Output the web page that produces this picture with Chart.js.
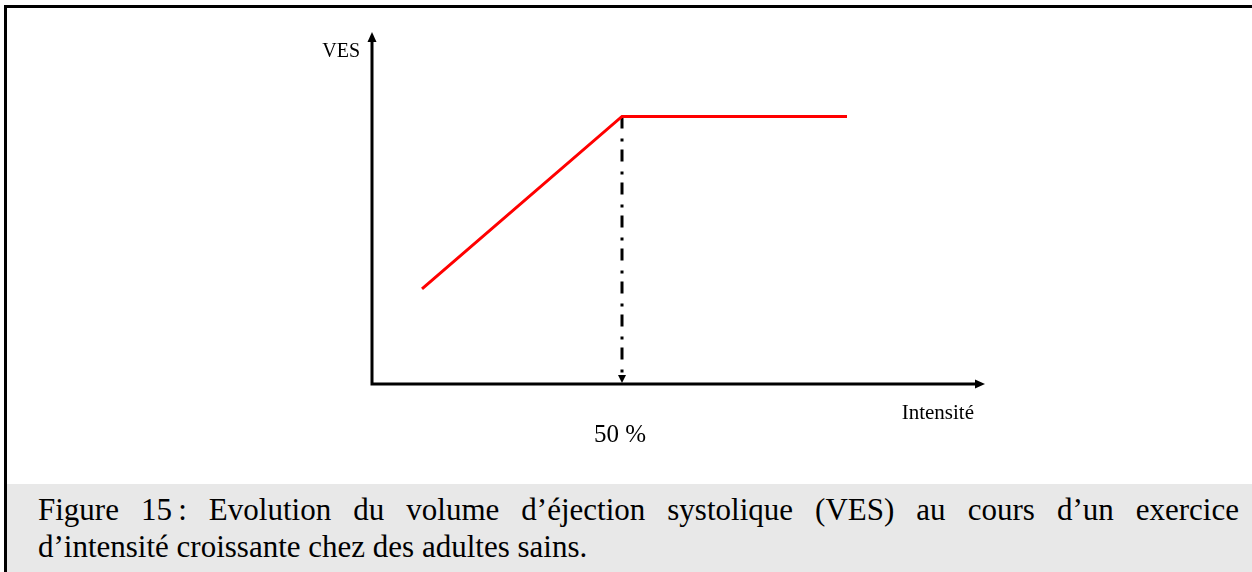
<!DOCTYPE html>
<html>
<head>
<meta charset="utf-8">
<script src="https://cdn.jsdelivr.net/npm/chart.js@4"></script>
<style>
  html, body { margin: 0; padding: 0; background: #fff; }
  body { width: 1252px; height: 572px; position: relative; overflow: hidden; }
  #frame {
    position: absolute; left: 4px; top: 5px; right: -10px; bottom: -10px;
    border-left: 3px solid #000; border-top: 3px solid #000;
  }
  #chart { position: absolute; left: 0; top: 0; }
  #caption {
    position: absolute; left: 7px; top: 484px; right: 0; bottom: 0;
    background: #e8e8e8; box-sizing: border-box;
    padding: 7px 13px 0 31px;
    font-family: 'Liberation Serif', 'Times New Roman', serif;
    font-size: 31px; line-height: 37px; color: #000;
  }
  #caption .l1 { display: block; text-align: justify; text-align-last: justify; }
  #caption .l2 { display: block; text-align: left; }
</style>
</head>
<body>
<div id="frame"></div>
<canvas id="chart" width="1252" height="484"></canvas>
<div id="caption"><span class="l1">Figure 15&#8201;: Evolution du volume d’éjection systolique (VES) au cours d’un exercice</span><span class="l2">d’intensité croissante chez des adultes sains.</span></div>
<script>
// VES curve: rises linearly until 50 % intensity, then plateaus
const intensity = [10, 50, 95];
const ves = [27, 76, 76];
const thresholdX = 50;
const yLabel = 'VES';
const xLabel = 'Intensité';
const thresholdLabel = '50 %';

const serif = "'Liberation Serif', 'Times New Roman', serif";

function arrowHead(ctx, x, y, dir, len, half) {
  ctx.beginPath();
  if (dir === 'up') {
    ctx.moveTo(x, y);
    ctx.lineTo(x - half, y + len);
    ctx.lineTo(x + half, y + len);
  } else if (dir === 'down') {
    ctx.moveTo(x, y);
    ctx.lineTo(x - half, y - len);
    ctx.lineTo(x + half, y - len);
  } else {
    ctx.moveTo(x, y);
    ctx.lineTo(x - len, y - half);
    ctx.lineTo(x - len, y + half);
  }
  ctx.closePath();
  ctx.fill();
}

const axesPlugin = {
  id: 'axesPlugin',
  afterDatasetsDraw(chart) {
    const { ctx, chartArea, scales } = chart;
    const x0 = scales.x.getPixelForValue(0);
    const y0 = scales.y.getPixelForValue(0);
    ctx.save();
    ctx.strokeStyle = '#000';
    ctx.fillStyle = '#000';
    ctx.lineWidth = 3;
    ctx.lineCap = 'butt';

    // axes
    ctx.beginPath();
    ctx.moveTo(x0, chartArea.top + 6);
    ctx.lineTo(x0, y0 + 1.5);
    ctx.moveTo(x0 - 1.5, y0);
    ctx.lineTo(chartArea.right - 6, y0);
    ctx.stroke();
    arrowHead(ctx, x0, chartArea.top, 'up', 10, 4.5);
    arrowHead(ctx, chartArea.right, y0, 'right', 10, 4.5);

    // arrow at the bottom of the threshold line
    const xt = scales.x.getPixelForValue(thresholdX);
    arrowHead(ctx, xt, y0 - 1, 'down', 8, 4);

    // labels
    ctx.textBaseline = 'alphabetic';
    ctx.font = '20px ' + serif;
    ctx.textAlign = 'right';
    ctx.fillText(yLabel, x0 - 12, chartArea.top + 25);
    ctx.font = '21px ' + serif;
    ctx.fillText(xLabel, chartArea.right - 11, y0 + 35);
    ctx.font = '25px ' + serif;
    ctx.textAlign = 'center';
    ctx.fillText(thresholdLabel, xt - 2, y0 + 58);
    ctx.restore();
  }
};

new Chart(document.getElementById('chart'), {
  type: 'line',
  data: {
    datasets: [
      {
        data: intensity.map((x, i) => ({ x: x, y: ves[i] })),
        borderColor: '#ff0000',
        borderWidth: 3,
        pointRadius: 0,
        tension: 0,
        order: 1
      },
      {
        data: [{ x: thresholdX, y: ves[1] }, { x: thresholdX, y: 2.5 }],
        borderColor: '#000',
        borderWidth: 3,
        borderDash: [12, 10, 3, 8],
        borderCapStyle: 'butt',
        pointRadius: 0,
        order: 2
      }
    ]
  },
  options: {
    responsive: false,
    animation: false,
    devicePixelRatio: 1,
    layout: {
      padding: { left: 372, top: 32, right: 267, bottom: 100 }
    },
    scales: {
      x: { type: 'linear', min: 0, max: 122.6, display: false },
      y: { type: 'linear', min: 0, max: 100, display: false }
    },
    plugins: {
      legend: { display: false },
      tooltip: { enabled: false }
    }
  },
  plugins: [axesPlugin]
});
</script>
</body>
</html>
